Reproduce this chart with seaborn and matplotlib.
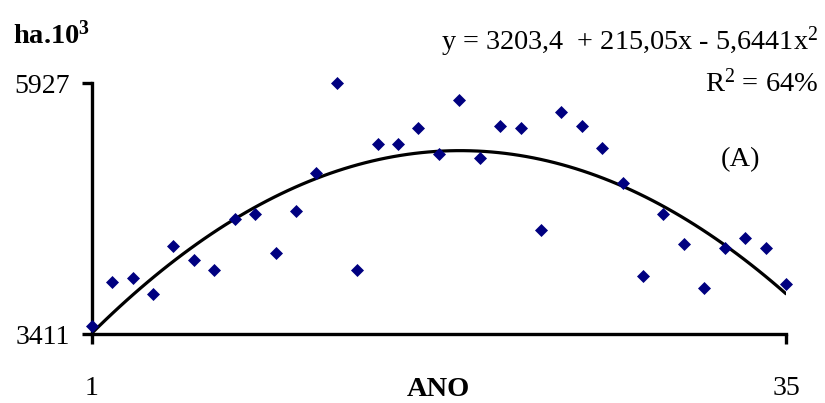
import numpy as np
import pandas as pd
import matplotlib.pyplot as plt
import seaborn as sns

# dados (area em ha.10^3 por ano da serie)
anos = list(range(1, 36))
area = [3494, 3936, 3976, 3812, 4297, 4154, 4056, 4562, 4615, 4221,
        4642, 5027, 5927, 4056, 5320, 5318, 5481, 5214, 5762, 5174,
        5501, 5481, 4455, 5642, 5501, 5281, 4926, 3996, 4615, 4317,
        3873, 4271, 4377, 4271, 3913]

y_ticks = [3411, 5927]
x_ticks = [1, 35]

equacao = r"y = 3203,4  + 215,05x - 5,6441x$^{2}$"
r2_texto = r"R$^{2}$ = 64%"

df = pd.DataFrame({"ano": anos, "area": area})

sns.set_theme(style="ticks")
plt.rcParams["font.family"] = ["Liberation Serif", "DejaVu Serif"]
plt.rcParams["mathtext.fontset"] = "custom"
plt.rcParams["mathtext.rm"] = "Liberation Serif"
plt.rcParams["mathtext.bf"] = "Liberation Serif:bold"
plt.rcParams["mathtext.it"] = "Liberation Serif:italic"
plt.rcParams["text.color"] = "black"
plt.rcParams["axes.labelcolor"] = "black"

fig = plt.figure(figsize=(8.25, 4.03), dpi=100)
ax = fig.add_axes([0.1112, 0.1712, 0.8415, 0.6221])

# linha de tendencia polinomial (ordem 2)
sns.regplot(data=df, x="ano", y="area", order=2, ci=None, scatter=False,
            truncate=True, line_kws=dict(color="black", lw=2.3), ax=ax)
sns.scatterplot(data=df, x="ano", y="area", marker="D", s=44,
                color="#000080", linewidth=0, ax=ax, zorder=3, clip_on=False)

ax.set_xlim(1, 35)
ax.set_ylim(3411, 5927)
ax.set_xticks(x_ticks)
ax.set_yticks(y_ticks)
for s in ["top", "right"]:
    ax.spines[s].set_visible(False)
for s in ["left", "bottom"]:
    ax.spines[s].set_linewidth(2.4)
    ax.spines[s].set_color("black")
ax.tick_params(axis="both", length=7, width=2.4, labelsize=20,
               colors="black", labelcolor="black")
ax.tick_params(axis="x", pad=23)
ax.tick_params(axis="y", pad=9)
ax.set_ylabel("")
ax.set_xlabel("ANO", fontsize=20.5, fontweight="bold")
ax.xaxis.set_label_coords(0.5, -0.17)

fig.text(0.016, 0.893, r"ha.10$^{\mathbf{3}}$", fontsize=20.5, fontweight="bold", va="baseline")
fig.text(0.9915, 0.876, equacao, fontsize=20.3, ha="right", va="baseline")
fig.text(0.9915, 0.772, r2_texto, fontsize=20.5, ha="right", va="baseline")
fig.text(0.898, 0.605, "(A)", fontsize=20.5, ha="center", va="center")

plt.savefig("out.png", dpi=100)
